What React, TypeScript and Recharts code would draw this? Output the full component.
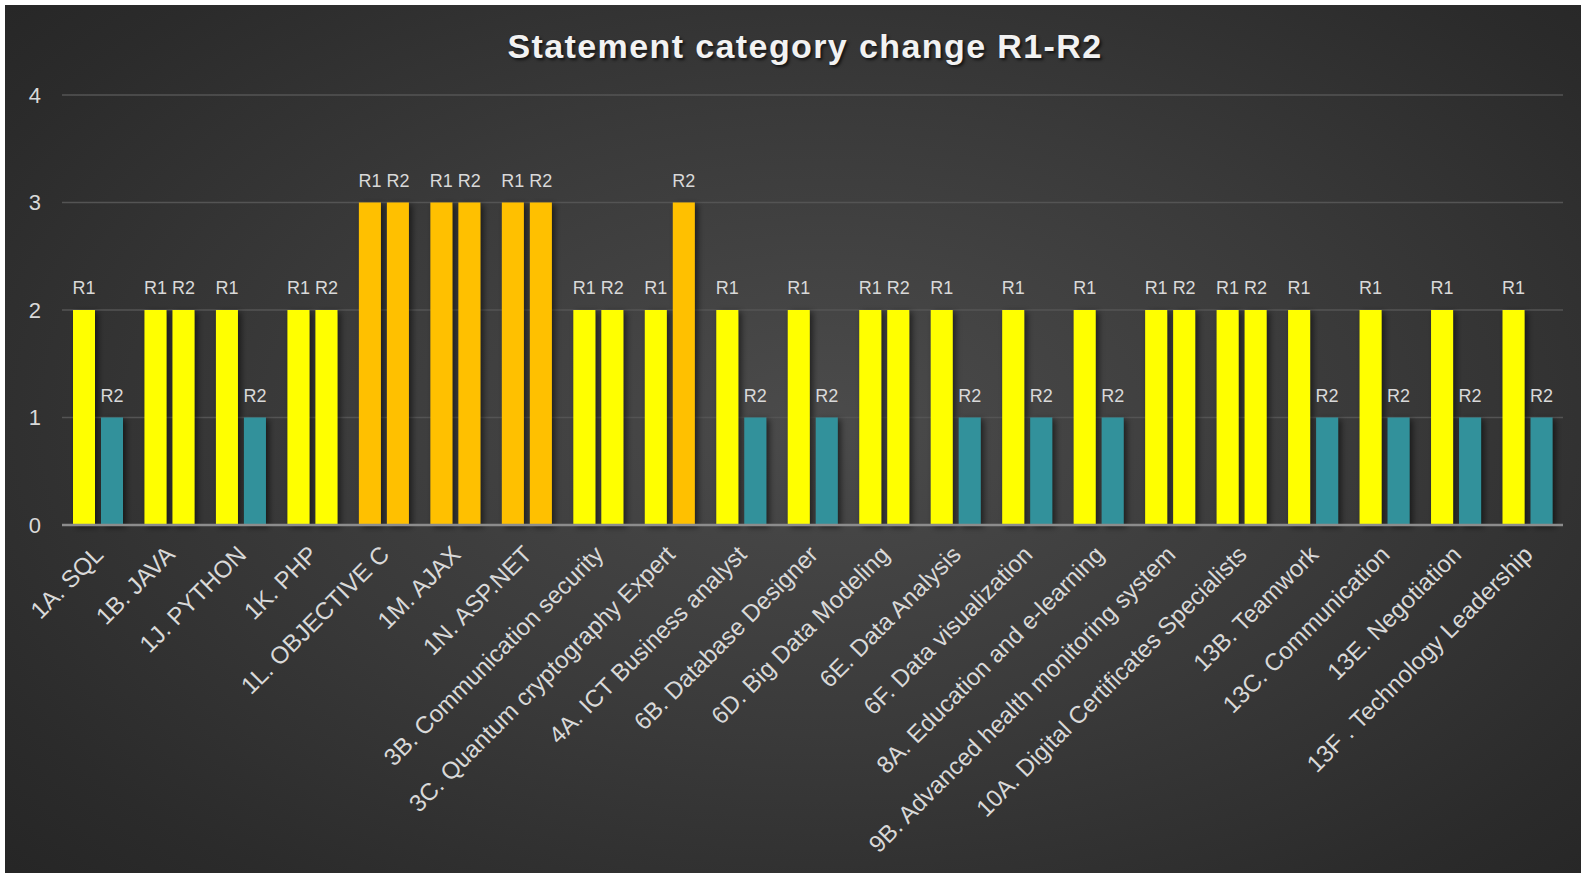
import { Bar, BarChart, CartesianGrid, Cell, LabelList, XAxis, YAxis } from "recharts";

const categories = [
  "1A. SQL",
  "1B. JAVA",
  "1J. PYTHON",
  "1K. PHP",
  "1L. OBJECTIVE C",
  "1M. AJAX",
  "1N. ASP.NET",
  "3B. Communication security",
  "3C. Quantum cryptography Expert",
  "4A. ICT Business analyst",
  "6B. Database Designer",
  "6D. Big Data Modeling",
  "6E. Data Analysis",
  "6F. Data visualization",
  "8A. Education and e-learning",
  "9B. Advanced health monitoring system",
  "10A. Digital Certificates Specialists",
  "13B. Teamwork",
  "13C. Communication",
  "13E. Negotiation",
  "13F . Technology Leadership",
];

const r1Values = [2, 2, 2, 2, 3, 3, 3, 2, 2, 2, 2, 2, 2, 2, 2, 2, 2, 2, 2, 2, 2];
const r2Values = [1, 2, 1, 2, 3, 3, 3, 2, 3, 1, 1, 2, 1, 1, 1, 2, 2, 1, 1, 1, 1];
const yTicks = [0, 1, 2, 3, 4];

const FONT = '"Liberation Sans", Arial, sans-serif';
const TEXT = "#d9d9d9";

const levelColor = (v: number) => (v >= 3 ? "#FFC000" : v === 2 ? "#FFFF00" : "#31919B");

const data = categories.map((name, i) => ({ name, r1: r1Values[i], r2: r2Values[i] }));

const seriesLabel = (text: string) => (props: any) => {
  const x = Number(props.x) + Number(props.width) / 2;
  const y = Number(props.y) - 16;
  return (
    <text x={x} y={y} textAnchor="middle" fill={TEXT} fontSize={18} fontFamily={FONT}>
      {text}
    </text>
  );
};

const ShadowBar = (props: any) => {
  const { x, y, width, height, fill } = props;
  if (!height) return null;
  return <rect x={x} y={y} width={width} height={height} fill={fill} filter="url(#barShadow)" />;
};

const CategoryTick = (props: any) => {
  const { x, y, payload } = props;
  return (
    <g transform={`translate(${x + 7},${y + 31})`}>
      <text textAnchor="end" transform="rotate(-45)" fill={TEXT} fontSize={24} fontFamily={FONT}>
        {payload.value}
      </text>
    </g>
  );
};

export default function App() {
  return (
    <div
      style={{
        position: "absolute",
        left: 5,
        top: 5,
        width: 1576,
        height: 868,
        overflow: "hidden",
        background: "radial-gradient(ellipse 75% 80% at 52% 48%, #4b4b4b 0%, #3a3a3a 45%, #2b2b2b 80%, #242424 100%)",
      }}
    >
      <style>{`body{margin:0;overflow:hidden;background:#fff}`}</style>
      <div
        style={{
          position: "absolute",
          top: 24,
          left: 12,
          width: "100%",
          textAlign: "center",
          fontFamily: FONT,
          fontWeight: "bold",
          fontSize: 34,
          lineHeight: "34px",
          letterSpacing: 1.4,
          color: "#f2f2f2",
          textShadow: "2px 2px 3px rgba(0,0,0,0.65)",
        }}
      >
        Statement category change R1-R2
      </div>
      <BarChart
        width={1576}
        height={868}
        data={data}
        margin={{ top: 90, right: 18, left: 0, bottom: 0 }}
        barSize={22}
        barGap={6}
        style={{ position: "absolute", left: 0, top: 0 }}
      >
        <defs>
          <filter id="barShadow" x="-30%" y="-10%" width="180%" height="125%">
            <feDropShadow dx="3" dy="2" stdDeviation="3" floodColor="#000" floodOpacity="0.55" />
          </filter>
        </defs>
        <CartesianGrid vertical={false} stroke="#545454" strokeWidth={1.5} />
        <YAxis
          width={57}
          domain={[0, 4]}
          ticks={yTicks}
          axisLine={false}
          tickLine={false}
          tickSize={0}
          tickMargin={21}
          tick={{ fill: TEXT, fontSize: 22, fontFamily: FONT }}
        />
        <XAxis
          dataKey="name"
          height={348}
          interval={0}
          tickLine={false}
          tickSize={0}
          tickMargin={0}
          axisLine={{ stroke: "#8c8c8c", strokeWidth: 2.5 }}
          tick={<CategoryTick />}
        />
        <Bar dataKey="r1" isAnimationActive={false} shape={<ShadowBar />}>
          {data.map((d, i) => (
            <Cell key={`r1-${i}`} fill={levelColor(d.r1)} />
          ))}
          <LabelList dataKey="r1" content={seriesLabel("R1")} />
        </Bar>
        <Bar dataKey="r2" isAnimationActive={false} shape={<ShadowBar />}>
          {data.map((d, i) => (
            <Cell key={`r2-${i}`} fill={levelColor(d.r2)} />
          ))}
          <LabelList dataKey="r2" content={seriesLabel("R2")} />
        </Bar>
      </BarChart>
    </div>
  );
}
